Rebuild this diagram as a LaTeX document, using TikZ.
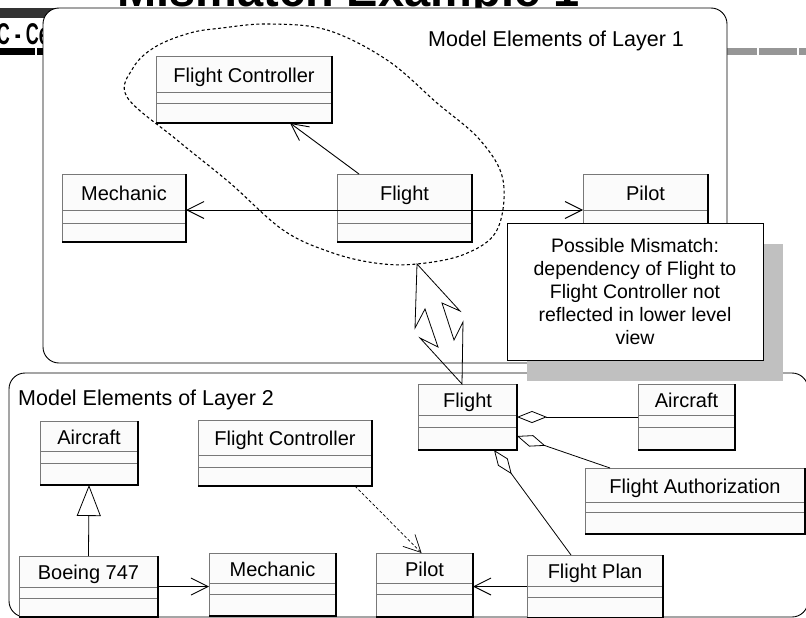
\documentclass[tikz,border=0pt]{standalone}
\usepackage{fontspec}
\setmainfont{Liberation Sans}
\usepackage{xcolor}
\usetikzlibrary{arrows.meta,calc}

\definecolor{clsfill}{RGB}{251,251,251}
\definecolor{clsline}{RGB}{120,120,120}
\definecolor{shadowgray}{RGB}{192,192,192}
\definecolor{hdrgray}{RGB}{150,150,150}

% class box: name, left, top, width, three compartment heights, label
\newcommand{\umlclass}[8]{%
  \node[clsbox,minimum width=#4,minimum height=#5+#6+#7,anchor=north west] (#1) at (#2,#3) {};
  \node[clsname,anchor=base] (#1-name) at ($(#1.north)+(0,#5/2+8)$) {#8};
  \draw[clsdiv] ($(#1.north west)+(0,#5)$) -- ($(#1.north east)+(0,#5)$);
  \draw[clsdiv] ($(#1.north west)+(0,#5+#6)$) -- ($(#1.north east)+(0,#5+#6)$);
  \draw[clsedge] (#1.north east) -- (#1.south east) -- (#1.south west);
}

\begin{document}
\begin{tikzpicture}[
    x=1pt,y=-1pt,
    clsbox/.style={draw=clsline,fill=clsfill,line width=0.9pt,inner sep=0pt,outer sep=0pt},
    clsname/.style={inner sep=0pt,font=\fontsize{20}{24}\selectfont},
    clsdiv/.style={draw=clsline,line width=0.7pt},
    clsedge/.style={draw=black,line width=1.2pt},
    layerbox/.style={draw=black,fill=white,line width=0.9pt,rounded corners=16pt},
    layerlbl/.style={inner sep=0pt,font=\fontsize{21.5}{26}\selectfont},
    assoc/.style={line width=0.9pt,-{Straight Barb[length=17pt,width=17pt]}},
    depend/.style={assoc,line width=0.7pt,dash pattern=on 3pt off 2pt},
    aggr/.style={line width=0.8pt,{Diamond[open,length=30pt,width=12pt]}-},
    gener/.style={line width=0.8pt,-{Triangle[open,length=31pt,width=24pt]}},
    mismatchnote/.style={draw=black,fill=white,line width=0.8pt,align=center,inner sep=0pt,
      font=\fontsize{19.5}{23}\selectfont},
    groupline/.style={line width=1.1pt,dash pattern=on 3pt off 2.5pt},
    flash/.style={draw=black,line width=0.8pt,line join=miter}
  ]
  \useasboundingbox (0,0) rectangle (806,618);
  \clip (0,0) rectangle (806,618);

  % slide header, mostly hidden
  \node[anchor=base west,inner sep=0pt,font=\fontsize{47}{50}\bfseries\selectfont] (title) at (117,6.5) {Mismatch Example 1};
  \fill[black!80] (0,8) rectangle (60,18);
  \node[anchor=base east,inner sep=0pt,font=\fontsize{30}{32}\bfseries\selectfont] (subtitle) at (49,45) {\scalebox{0.6}[1]{C - Ce}};
  \foreach \a/\b in {0/35,37/120} \fill[black] (\a,48) rectangle (\b,55);
  \foreach \a/\b in {690/757,759/797,799/830} \fill[hdrgray] (\a,48) rectangle (\b,55);

  % the two layers
  \draw[layerbox] (43,8) rectangle (727,363);
  \draw[layerbox] (9,373) rectangle (808,617);
  \node[layerlbl,anchor=base west] (lbl1) at (428,47) {Model Elements of Layer 1};
  \node[layerlbl,anchor=base west] (lbl2) at (18,405) {Model Elements of Layer 2};

  % layer 1
  \umlclass{fc1}{156}{56}{176}{36}{11}{20}{Flight Controller}
  \umlclass{mech1}{62}{174}{124}{36}{13}{19}{Mechanic}
  \umlclass{flight1}{337}{174}{135}{36}{13}{19}{Flight}
  \umlclass{pilot1}{583}{174}{125}{36}{13}{19}{Pilot}

  \draw[assoc] ([xshift=22pt]flight1.north west) -- ([xshift=134pt]fc1.south west);
  \draw[assoc] ([yshift=-36pt]flight1.north) -- ([yshift=-36pt]mech1.north east);
  \draw[assoc] ([yshift=-36pt]flight1.north) -- ([yshift=-36pt]pilot1.north west);

  \draw[groupline] plot[smooth cycle,tension=0.6] coordinates {
    (268,24) (327,30) (387,60) (437,103) (480,140) (503,180) (497,230) (465,254)
    (417,264) (375,263) (330,252) (283,230) (230,183) (177,140) (127,97) (133,68)
    (155,47) (190,33) (222,28)};

  % layer 2
  \umlclass{air1}{40}{421}{98}{30}{12}{22}{Aircraft}
  \umlclass{fc2}{198}{420}{174}{35}{12}{19}{Flight Controller}
  \umlclass{boeing}{19}{556}{139}{31}{11}{19}{Boeing 747}
  \umlclass{mech2}{209}{553}{127}{30}{11}{22}{Mechanic}
  \umlclass{pilot2}{376}{553}{97}{30}{11}{23}{Pilot}
  \umlclass{fplan}{527}{555}{136}{31}{11}{21}{Flight Plan}
  \umlclass{flight2}{418}{384}{99}{31}{12}{23}{Flight}
  \umlclass{air2}{638}{384}{97}{31}{12}{23}{Aircraft}
  \umlclass{fauth}{585}{468}{220}{34}{10}{22}{Flight Authorization}

  \draw[gener] (boeing.north) -- (air1.south);
  \draw[assoc] (boeing.east) -- (boeing.east -| mech2.west);
  \draw[depend] ([xshift=157pt]fc2.south west) -- ([xshift=-3pt]pilot2.north);
  \draw[assoc] (fplan.west) -- (fplan.west -| pilot2.east);
  \draw[aggr] (flight2.east) -- (air2.west);
  \draw[aggr] ([yshift=-19pt]flight2.east) -- ([xshift=25pt]fauth.north west);
  \draw[aggr] ([xshift=76pt]flight2.south west) -- ([xshift=44pt]fplan.north west);

  % note with its shadow
  \node[fill=shadowgray,minimum width=256,minimum height=137,inner sep=0pt] (mmshadow) at (655,312.5) {};
  \node[mismatchnote,minimum width=256,minimum height=137] (mm) at (635,291.5)
    {Possible Mismatch:\\dependency of Flight to\\Flight Controller not\\reflected in lower level\\view};

  % mismatch flash between the layers
  \draw[flash] (417,264) -- (415,328) -- (425,309) -- (438,347) -- (420,338)
    -- ([xshift=44pt]flight2.north west) -- (463,322) -- (454,340) -- (442,303) -- (460,311) -- cycle;
\end{tikzpicture}
\end{document}
